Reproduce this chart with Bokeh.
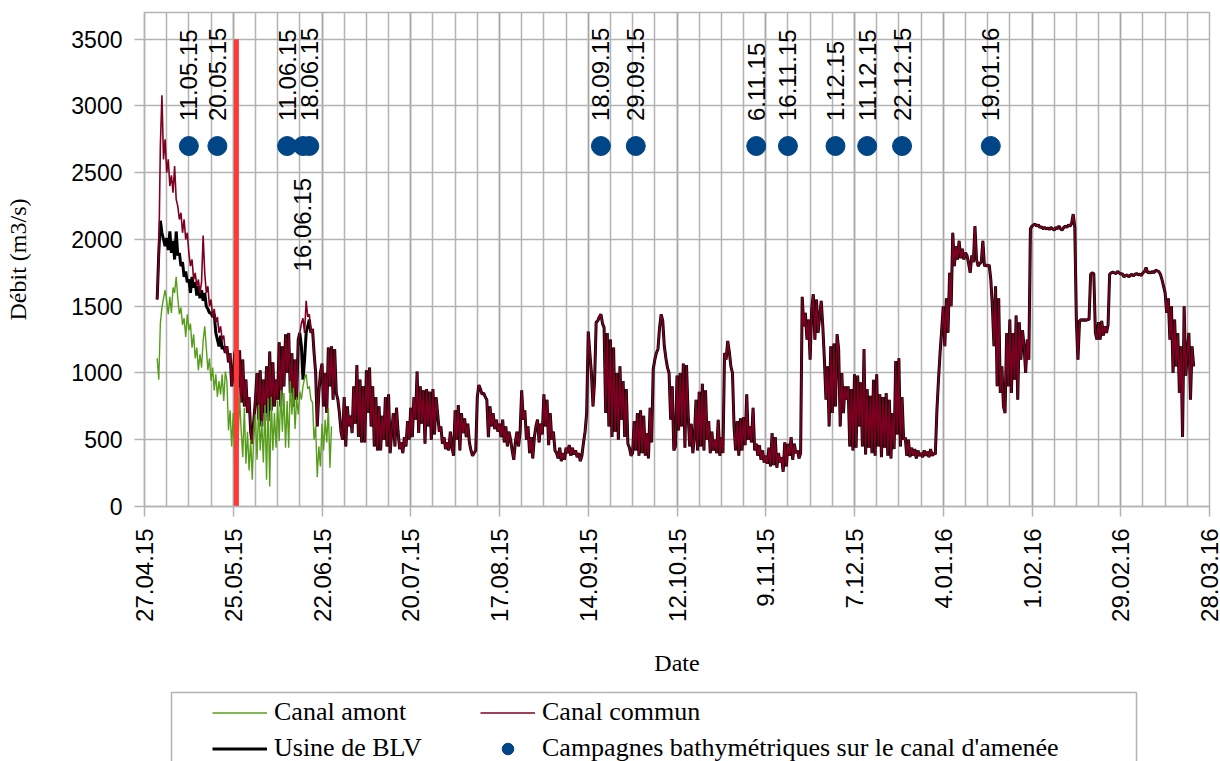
import math
from datetime import datetime
import numpy as np
from bokeh.plotting import figure
from bokeh.layouts import column
from bokeh.models import FixedTicker, Legend, LegendItem, Range1d, BoxAnnotation
from bokeh.core.properties import value
from bokeh.embed import file_html
from bokeh.resources import INLINE

# ---------------- data ----------------
origin = "27.04.15"           # first date tick (day 0 of the x axis)
series_start = "01.05.15"     # first value of the flow series
step_days = 0.5               # one value every 12 hours

tick_labels = ["27.04.15", "25.05.15", "22.06.15", "20.07.15", "17.08.15", "14.09.15",
               "12.10.15", "9.11.15", "7.12.15", "4.01.16", "1.02.16", "29.02.16", "28.03.16"]
y_ticks = [0, 500, 1000, 1500, 2000, 2500, 3000, 3500]

campaign_labels = ["11.05.15", "20.05.15", "11.06.15", "16.06.15", "18.06.15", "18.09.15",
                   "29.09.15", "6.11.15", "16.11.15", "1.12.15", "11.12.15", "22.12.15", "19.01.16"]
campaign_level = 2700
labels_below = ["16.06.15"]

event_date = "26.05.15"
event_top = 3500

# Canal commun (m3/s), half-day values from 01.05.15
commun = [
    1550, 1850, 2700, 3080, 2600, 2750,
    2500, 2600, 2400, 2480, 2350, 2550, 2300, 2250, 2150, 2200, 2050, 2150, 2000, 2050,
    1900, 1800, 1850, 1700, 1750, 1650, 1700, 1600, 1680, 2030, 1750, 1600, 1650, 1500,
    1550, 1420, 1480, 1380, 1420, 1300, 1350, 1250, 1280, 1150, 1200, 1080, 1150, 900,
    1000, 1150, 1200, 900, 1170, 780, 1100, 750, 950, 700, 820, 560, 470, 650,
    800, 1000, 650, 1020, 600, 950, 700, 1050, 640, 1160, 720, 1080, 750, 950,
    800, 1230, 750, 1200, 900, 1290, 1000, 1300, 850, 1150, 750, 1100, 800, 1250,
    1300, 1370, 1410, 1300, 1540, 1420, 1440, 1300, 1330, 1150, 1000, 600, 850, 1000,
    1070, 750, 1000, 700, 1190, 900, 1200, 800, 1180, 850, 800, 700, 560, 500,
    820, 450, 750, 600, 680, 550, 900, 620, 1060, 520, 950, 480, 900, 480,
    1020, 700, 1040, 600, 900, 450, 820, 420, 750, 420, 680, 500, 820, 450,
    840, 400, 560, 700, 450, 740, 560, 430, 480, 400, 520, 450, 640, 500,
    740, 520, 820, 650, 1010, 550, 900, 620, 870, 470, 880, 600, 860, 500,
    880, 540, 820, 690, 560, 600, 470, 520, 430, 480, 420, 560, 450, 380,
    720, 500, 760, 420, 700, 550, 660, 520, 620, 480, 420, 380, 400, 420,
    820, 910, 880, 840, 850, 820, 800, 520, 750, 600, 700, 580, 650, 560,
    620, 520, 650, 480, 600, 450, 560, 500, 420, 350, 480, 560, 450, 560,
    870, 650, 720, 500, 600, 400, 520, 360, 520, 600, 650, 480, 620, 540,
    840, 600, 800, 460, 700, 500, 560, 420, 400, 360, 440, 340, 400, 350,
    440, 400, 460, 380, 440, 390, 420, 370, 400, 340, 380, 480, 560, 700,
    1310, 1150, 1000, 750, 940, 1380, 1390, 1420, 1440, 1370, 1340, 700, 1300, 600,
    1250, 520, 1190, 560, 1000, 500, 1050, 650, 940, 520, 880, 470, 440, 380,
    400, 640, 420, 700, 380, 720, 400, 680, 380, 550, 360, 740, 480, 1030,
    1100, 1150, 1180, 1340, 1440, 1390, 1200, 1110, 1040, 1000, 650, 900, 420, 450,
    980, 570, 1000, 600, 1070, 440, 1060, 700, 450, 620, 400, 520, 800, 420,
    860, 450, 920, 420, 870, 500, 640, 400, 560, 420, 500, 400, 650, 380,
    520, 400, 1150, 1100, 1240, 1160, 1050, 1000, 600, 420, 640, 380, 660, 420,
    670, 460, 840, 500, 600, 480, 740, 420, 470, 380, 460, 350, 420, 330,
    380, 320, 440, 300, 550, 310, 520, 290, 400, 330, 370, 260, 480, 300,
    470, 380, 520, 350, 470, 400, 420, 360, 400, 1570, 1350, 1450, 1250, 1400,
    1100, 1480, 1590, 1250, 1550, 1300, 1420, 1540, 1350, 1100, 800, 1050, 600, 1200,
    700, 1220, 750, 1290, 1180, 600, 1000, 700, 900, 800, 900, 450, 880, 420,
    990, 440, 980, 600, 930, 450, 1180, 390, 880, 440, 830, 400, 950, 380,
    990, 450, 840, 370, 820, 440, 850, 380, 800, 360, 700, 430, 1090, 540,
    1110, 450, 820, 500, 520, 380, 500, 370, 440, 380, 430, 360, 420, 380,
    400, 370, 420, 380, 410, 370, 430, 380, 400, 390, 720, 950, 1150, 1320,
    1500, 1200, 1560, 1300, 1750, 1500, 2050, 1800, 1950, 1850, 1990, 1860, 1930, 1850,
    1900, 1880, 1820, 1750, 1880, 1830, 2100, 1850, 1800, 1820, 1830, 1990, 1800, 1810,
    1800, 1810, 1700, 1500, 1200, 1650, 900, 1560, 850, 1050, 750, 700, 1300, 900,
    1400, 850, 1300, 950, 1430, 800, 1380, 1100, 1320, 1200, 1000, 1250, 1100, 2080,
    2100, 2110, 2115, 2100, 2110, 2090, 2095, 2080, 2090, 2080, 2085, 2075, 2090, 2080,
    2070, 2090, 2080, 2100, 2080, 2070, 2090, 2100, 2090, 2110, 2100, 2120, 2190, 2090,
    1390, 1100, 1390, 1400, 1395, 1400, 1395, 1400, 1400, 1740, 1750, 1745, 1300, 1250,
    1380, 1250, 1390, 1280, 1350, 1300, 1360, 1740, 1750, 1755, 1750, 1745, 1760, 1750,
    1740, 1745, 1720, 1730, 1735, 1720, 1730, 1740, 1725, 1740, 1745, 1735, 1740, 1730,
    1750, 1760, 1790, 1750, 1755, 1750, 1760, 1750, 1770, 1765, 1760, 1740, 1700, 1650,
    1600, 1450, 1560, 1250, 1500, 1000, 1400, 1050, 1300, 850, 1200, 520, 1500, 980,
    1150, 1300, 800, 1200, 1050,
]

# Canal amont (m3/s), half-day values from 01.05.15
amont = [
    1110, 950, 1370, 1490, 1560, 1620,
    1540, 1440, 1570, 1450, 1640, 1600, 1720, 1560, 1440, 1490, 1360, 1410, 1270, 1440,
    1320, 1370, 1190, 1290, 1110, 1190, 1020, 1140, 1040, 1240, 1350, 1190, 1020, 1110,
    940, 1040, 870, 990, 820, 940, 840, 990, 790, 1010, 940, 570, 720, 450,
    700, 280, 790, 450, 820, 570, 370, 740, 320, 560, 270, 500, 200, 570,
    690, 350, 760, 420, 640, 330, 760, 200, 810, 150, 820, 420, 700, 440,
    790, 490, 870, 560, 850, 440, 790, 440, 940, 690, 890, 580, 820, 690,
    860, 800, 900, 960, 990, 880, 900, 800, 780, 500, 600, 220, 450, 300,
    620, 420, 650, 480, 740, 290, 600,
]

# Usine de BLV: differs from canal commun only on 01.05-27.05 and 16.06-22.06
usine_may = [
    1550, 1900, 2140, 2050, 2000, 1950,
    2010, 1920, 2060, 1900, 1990, 1850, 2060, 1880, 1900, 1800, 1830, 1720, 1760, 1680,
    1700, 1600, 1720, 1640, 1680, 1580, 1650, 1560, 1620, 1540, 1600, 1500, 1480, 1450,
    1450, 1420, 1440, 1300, 1250, 1200, 1280, 1180, 1200, 1150, 1200, 1080, 1150, 900,
]
usine_june = [1300, 1200, 950, 1100, 1300, 1350, 1400, 1300, 1330, 1150, 1000, 600, 850, 1000]

series_names = ["Canal amont", "Canal commun", "Usine de BLV",
                "Campagnes bathymétriques sur le canal d'amenée"]


def day_of(label):
    d0 = datetime.strptime(origin, "%d.%m.%y")
    return (datetime.strptime(label, "%d.%m.%y") - d0).days


start = day_of(series_start)
i_june = len(usine_may) + 2 * 21
usine = usine_may + commun[len(usine_may):i_june] + usine_june + commun[i_june + len(usine_june):]

x_commun = start + step_days * np.arange(len(commun))
x_amont = start + step_days * np.arange(len(amont))
x_usine = start + step_days * np.arange(len(usine))

tick_days = [day_of(t) for t in tick_labels]
camp_days = [day_of(c) for c in campaign_labels]
event_day = day_of(event_date)

# ---------------- styles ----------------
GRID = "#b3b3b3"
C_AMONT, W_AMONT = "#579d1c", 1.4
C_COMMUN, W_COMMUN = "#7e0021", 1.6
C_USINE, W_USINE = "black", 3.0
C_CAMP, S_CAMP = "#004586", 19

W = 1220
H_MAIN = 685
H_LEG = 761 - H_MAIN
BORDER_L, BORDER_R = 144, 11

# ---------------- main figure ----------------
p = figure(width=W, height=H_MAIN, output_backend="svg", toolbar_location=None,
           x_range=Range1d(tick_days[0], tick_days[-1]), y_range=Range1d(0, 3700),
           min_border_left=BORDER_L, min_border_right=BORDER_R, min_border_top=12,
           min_border_bottom=H_MAIN - 506)
p.background_fill_color = "white"
p.border_fill_color = "white"
p.outline_line_color = GRID
p.outline_line_width = 1.5

p.xaxis.ticker = FixedTicker(ticks=tick_days,
                             minor_ticks=list(range(tick_days[0], tick_days[-1] + 1, 7)))
p.xaxis.major_label_overrides = {d: l for d, l in zip(tick_days, tick_labels)}
p.xaxis.major_label_orientation = math.pi / 2
p.yaxis.ticker = FixedTicker(ticks=y_ticks)

for ax in (p.xaxis[0], p.yaxis[0]):
    ax.axis_line_color = GRID
    ax.axis_line_width = 1.5
    ax.major_tick_line_color = GRID
    ax.major_tick_line_width = 1.5
    ax.major_tick_out = 10
    ax.major_tick_in = 0
    ax.minor_tick_out = 0
    ax.minor_tick_in = 0
    ax.minor_tick_line_color = None
    ax.major_label_text_font = "Liberation Sans"
    ax.major_label_text_color = "black"
    ax.major_label_standoff = 12
    ax.axis_label_text_font = "Liberation Serif"
    ax.axis_label_text_font_style = "normal"
    ax.axis_label_text_font_size = "24px"
    ax.axis_label_text_color = "black"

p.xaxis.major_label_text_font_size = "24px"
p.yaxis.major_label_text_font_size = "23px"
p.xaxis.axis_label = "Date"
p.yaxis.axis_label = "Débit (m3/s)"
p.xaxis.axis_label_standoff = 25
p.yaxis.axis_label_standoff = 37

p.xgrid.grid_line_color = "#a6a6a6"
p.xgrid.grid_line_width = 1.5
p.xgrid.minor_grid_line_color = GRID
p.xgrid.minor_grid_line_width = 1.5
p.ygrid.grid_line_color = GRID
p.ygrid.grid_line_width = 1.5

p.line(x_usine, usine, color=C_USINE, line_width=W_USINE)
p.line(x_commun, commun, color=C_COMMUN, line_width=W_COMMUN)
p.line(x_amont, amont, color=C_AMONT, line_width=W_AMONT)

p.segment(x0=[event_day], y0=[0], x1=[event_day], y1=[event_top],
          line_color="#ff3838", line_width=5)

p.scatter(camp_days, [campaign_level] * len(camp_days), size=S_CAMP,
          color=C_CAMP, marker="circle")

up_x = [d for d, l in zip(camp_days, campaign_labels) if l not in labels_below]
up_t = [l for l in campaign_labels if l not in labels_below]
dn_x = [d for d, l in zip(camp_days, campaign_labels) if l in labels_below]
dn_t = [l for l in campaign_labels if l in labels_below]

p.text(up_x, [campaign_level] * len(up_x), text=up_t, angle=math.pi / 2,
       text_align="left", text_baseline="middle", y_offset=-25,
       text_font=value("Liberation Sans"), text_font_size=value("24px"), text_color="black")
p.text(dn_x, [campaign_level] * len(dn_x), text=dn_t, angle=math.pi / 2,
       text_align="right", text_baseline="middle", y_offset=32,
       text_font=value("Liberation Sans"), text_font_size=value("24px"), text_color="black")

# ---------------- legend strip (x roughly in page pixels) ----------------
lg = figure(width=W, height=H_LEG, output_backend="svg", toolbar_location=None,
            x_range=Range1d(BORDER_L, W - BORDER_R), y_range=Range1d(0, H_LEG),
            x_axis_location=None, y_axis_location=None,
            min_border_left=BORDER_L, min_border_right=BORDER_R,
            min_border_top=0, min_border_bottom=0)
lg.grid.visible = False
lg.outline_line_color = None
lg.background_fill_color = "white"
lg.border_fill_color = "white"

lg.add_layout(BoxAnnotation(left=171, right=1136, bottom=-20, top=H_LEG - 7,
                            fill_color="white", fill_alpha=1.0,
                            line_color="black", line_width=1.5))

nan = [float("nan")]
k_amont = lg.line(nan, nan, color=C_AMONT, line_width=W_AMONT)
k_commun = lg.line(nan, nan, color=C_COMMUN, line_width=W_COMMUN)
k_usine = lg.line(nan, nan, color=C_USINE, line_width=W_USINE)
k_camp = lg.scatter(nan, nan, size=S_CAMP, color=C_CAMP, marker="circle")

legend = Legend(items=[LegendItem(label=n, renderers=[r]) for n, r in
                       zip(series_names, [k_amont, k_commun, k_usine, k_camp])],
                orientation="horizontal", ncols=2, location=(212 - BORDER_L, -2))
legend.label_text_font = "Liberation Serif"
legend.label_text_font_size = "26px"
legend.label_text_color = "black"
legend.glyph_width = 55
legend.glyph_height = 29
legend.label_height = 29
legend.label_width = 200
legend.label_standoff = 7
legend.spacing = 6
legend.padding = 5
legend.margin = 0
legend.border_line_color = None
legend.background_fill_alpha = 0.0
lg.add_layout(legend, "center")

open("out.html", "w").write(file_html(column(p, lg, spacing=0), INLINE))
